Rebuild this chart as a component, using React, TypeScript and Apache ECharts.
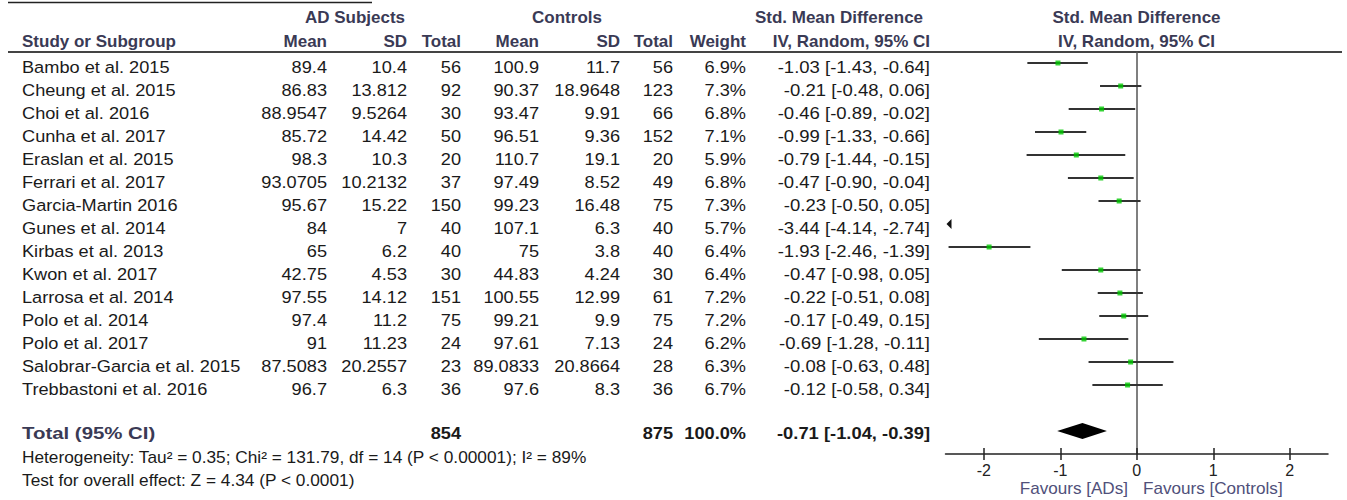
import React, { useEffect, useRef } from "react";
import * as echarts from "echarts";

const studies = [
  "Bambo et al. 2015",
  "Cheung et al. 2015",
  "Choi et al. 2016",
  "Cunha et al. 2017",
  "Eraslan et al. 2015",
  "Ferrari et al. 2017",
  "Garcia-Martin 2016",
  "Gunes et al. 2014",
  "Kirbas et al. 2013",
  "Kwon et al. 2017",
  "Larrosa et al. 2014",
  "Polo et al. 2014",
  "Polo et al. 2017",
  "Salobrar-Garcia et al. 2015",
  "Trebbastoni et al. 2016",
];
const adMean = ["89.4", "86.83", "88.9547", "85.72", "98.3", "93.0705", "95.67", "84", "65", "42.75", "97.55", "97.4", "91", "87.5083", "96.7"];
const adSD = ["10.4", "13.812", "9.5264", "14.42", "10.3", "10.2132", "15.22", "7", "6.2", "4.53", "14.12", "11.2", "11.23", "20.2557", "6.3"];
const adN = [56, 92, 30, 50, 20, 37, 150, 40, 40, 30, 151, 75, 24, 23, 36];
const ctlMean = ["100.9", "90.37", "93.47", "96.51", "110.7", "97.49", "99.23", "107.1", "75", "44.83", "100.55", "99.21", "97.61", "89.0833", "97.6"];
const ctlSD = ["11.7", "18.9648", "9.91", "9.36", "19.1", "8.52", "16.48", "6.3", "3.8", "4.24", "12.99", "9.9", "7.13", "20.8664", "8.3"];
const ctlN = [56, 123, 66, 152, 20, 49, 75, 40, 40, 30, 61, 75, 24, 28, 36];
const weight = [6.9, 7.3, 6.8, 7.1, 5.9, 6.8, 7.3, 5.7, 6.4, 6.4, 7.2, 7.2, 6.2, 6.3, 6.7];
const smd = [-1.03, -0.21, -0.46, -0.99, -0.79, -0.47, -0.23, -3.44, -1.93, -0.47, -0.22, -0.17, -0.69, -0.08, -0.12];
const ciLo = [-1.43, -0.48, -0.89, -1.33, -1.44, -0.9, -0.5, -4.14, -2.46, -0.98, -0.51, -0.49, -1.28, -0.63, -0.58];
const ciHi = [-0.64, 0.06, -0.02, -0.66, -0.15, -0.04, 0.05, -2.74, -1.39, 0.05, 0.08, 0.15, -0.11, 0.48, 0.34];

const totalAdN = 854;
const totalCtlN = 875;
const totalWeight = 100.0;
const totalSmd = -0.71;
const totalLo = -1.04;
const totalHi = -0.39;

const tickValues = [-2, -1, 0, 1, 2];
const X_MIN = -2.5;
const X_MAX = 2.5;
const TOTAL_ROW = 16;

const heterogeneityText = "Heterogeneity: Tau² = 0.35; Chi² = 131.79, df = 14 (P < 0.00001); I² = 89%";
const overallText = "Test for overall effect: Z = 4.34 (P < 0.0001)";

const fmtCI = (v: number, l: number, h: number) => `${v.toFixed(2)} [${l.toFixed(2)}, ${h.toFixed(2)}]`;

export default function App() {
  const ref = useRef<HTMLDivElement>(null);

  useEffect(() => {
    document.body.style.margin = "0";
    const chart = echarts.init(ref.current!, null, { renderer: "svg" });
    const FONT = "'Liberation Sans', Arial, sans-serif";
    const headColor = "#3a3a55";
    const bodyColor = "#1a1a1a";

    const txt = (text: string, x: number, y: number, opts: any = {}, sx = 1.07) => ({
      type: "text",
      x,
      y,
      scaleX: sx,
      silent: true,
      style: {
        text,
        fontFamily: FONT,
        fontSize: 17,
        fill: bodyColor,
        align: "left",
        verticalAlign: "middle",
        ...opts,
      },
    });

    const bold = { fontWeight: "bold", fill: headColor };
    const g: any[] = [];
    g.push({ type: "line", silent: true, shape: { x1: 8, y1: 2.5, x2: 372, y2: 2.5 }, style: { stroke: "#222", lineWidth: 1.5 } });
    g.push({ type: "line", silent: true, shape: { x1: 8, y1: 52, x2: 1342, y2: 52 }, style: { stroke: "#444", lineWidth: 2 } });

    // headers
    const h1 = 17;
    const h2 = 41;
    g.push(txt("AD Subjects", 355, h1, { ...bold, align: "center" }, 1));
    g.push(txt("Controls", 567, h1, { ...bold, align: "center" }, 1));
    g.push(txt("Std. Mean Difference", 839, h1, { ...bold, align: "center" }, 1));
    g.push(txt("Std. Mean Difference", 1136.5, h1, { ...bold, align: "center" }, 1));
    g.push(txt("Study or Subgroup", 22, h2, bold, 1));
    g.push(txt("Mean", 327, h2, { ...bold, align: "right" }, 1));
    g.push(txt("SD", 407, h2, { ...bold, align: "right" }, 1));
    g.push(txt("Total", 461, h2, { ...bold, align: "right" }, 1));
    g.push(txt("Mean", 539, h2, { ...bold, align: "right" }, 1));
    g.push(txt("SD", 620, h2, { ...bold, align: "right" }, 1));
    g.push(txt("Total", 673, h2, { ...bold, align: "right" }, 1));
    g.push(txt("Weight", 746, h2, { ...bold, align: "right" }, 1));
    g.push(txt("IV, Random, 95% CI", 930, h2, { ...bold, align: "right" }, 1));
    g.push(txt("IV, Random, 95% CI", 1136.5, h2, { ...bold, align: "center" }, 1));

    const R = { align: "right" };
    studies.forEach((name, i) => {
      const y = 67 + 23 * i;
      g.push(txt(name, 22, y));
      g.push(txt(adMean[i], 327, y, R));
      g.push(txt(adSD[i], 407, y, R));
      g.push(txt(String(adN[i]), 461, y, R));
      g.push(txt(ctlMean[i], 539, y, R));
      g.push(txt(ctlSD[i], 620, y, R));
      g.push(txt(String(ctlN[i]), 673, y, R));
      g.push(txt(weight[i].toFixed(1) + "%", 746, y, R));
      g.push(txt(fmtCI(smd[i], ciLo[i], ciHi[i]), 930, y, R, 1.09));
    });

    const ty = 433;
    const tb = { fontWeight: "bold", fill: bodyColor };
    g.push(txt("Total (95% CI)", 22, ty, { ...tb, fill: headColor }, 1.2));
    g.push(txt(String(totalAdN), 461, ty, { ...tb, align: "right" }));
    g.push(txt(String(totalCtlN), 673, ty, { ...tb, align: "right" }));
    g.push(txt(totalWeight.toFixed(1) + "%", 746, ty, { ...tb, align: "right" }));
    g.push(txt(fmtCI(totalSmd, totalLo, totalHi), 930, ty, { ...tb, align: "right" }, 1.08));
    g.push(txt(heterogeneityText, 22, 458, { fontSize: 16 }, 1.08));
    g.push(txt(overallText, 22, 481, { fontSize: 16 }, 1.08));
    g.push(txt("Favours [ADs]", 1128, 489, { fontSize: 16, fill: "#50507a", align: "right" }));
    g.push(txt("Favours [Controls]", 1143, 489, { fontSize: 16, fill: "#50507a", align: "left" }));

    const ciData = smd.map((_, i) => [ciLo[i], ciHi[i], i]);
    const pointData = smd.map((v, i) => [v, i]).filter((p) => p[0] >= X_MIN && p[0] <= X_MAX);

    chart.setOption({
      animation: false,
      grid: { left: 945.5, top: 52, width: 382.5, height: 402, containLabel: false },
      xAxis: [
        {
          type: "value",
          min: X_MIN,
          max: X_MAX,
          position: "bottom",
          axisLine: { show: true, onZero: false, lineStyle: { color: "#222", width: 1.5 } },
          axisTick: { show: true, customValues: tickValues, length: 6, lineStyle: { color: "#222", width: 1.5 } },
          axisLabel: { show: true, customValues: tickValues, fontSize: 16, color: "#222", fontFamily: FONT, margin: 8, formatter: (v: number) => String(v) },
          splitLine: { show: false },
        },
        {
          type: "value",
          min: X_MIN,
          max: X_MAX,
          position: "bottom",
          axisLine: { show: false, onZero: false },
          axisTick: { show: true, inside: true, customValues: tickValues, length: 6, lineStyle: { color: "#222", width: 1.5 } },
          axisLabel: { show: false },
          splitLine: { show: false },
        },
      ],
      yAxis: {
        type: "value",
        min: -0.478,
        max: 17,
        inverse: true,
        axisLine: { show: true, onZero: true, lineStyle: { color: "#555", width: 1.5 } },
        axisTick: { show: false },
        axisLabel: { show: false },
        splitLine: { show: false },
      },
      graphic: g,
      series: [
        {
          type: "custom",
          xAxisIndex: 0,
          clip: false,
          z: 2,
          encode: { x: [0, 1], y: 2 },
          data: ciData,
          renderItem: (params: any, api: any) => {
            const l = api.value(0);
            const h = api.value(1);
            const r = api.value(2);
            if (h < X_MIN) {
              const p = api.coord([X_MIN, r]);
              return {
                type: "polygon",
                shape: { points: [[p[0] + 1, p[1]], [p[0] + 6, p[1] - 5], [p[0] + 6, p[1] + 5]] },
                style: { fill: "#111" },
              };
            }
            const a = api.coord([Math.max(l, X_MIN), r]);
            const b = api.coord([Math.min(h, X_MAX), r]);
            return {
              type: "line",
              shape: { x1: a[0], y1: a[1], x2: b[0], y2: b[1] },
              style: { stroke: "#333", lineWidth: 2 },
            };
          },
        },
        {
          type: "scatter",
          xAxisIndex: 0,
          z: 3,
          symbol: "rect",
          symbolSize: 5,
          itemStyle: { color: "#00c800" },
          data: pointData,
        },
        {
          type: "custom",
          xAxisIndex: 0,
          z: 3,
          encode: { x: [0, 1, 2], y: 3 },
          data: [[totalLo, totalSmd, totalHi, TOTAL_ROW]],
          renderItem: (params: any, api: any) => {
            const r = api.value(3);
            const a = api.coord([api.value(0), r]);
            const e = api.coord([api.value(1), r]);
            const b = api.coord([api.value(2), r]);
            return {
              type: "polygon",
              shape: { points: [[a[0], a[1]], [e[0], e[1] - 8], [b[0], b[1]], [e[0], e[1] + 8]] },
              style: { fill: "#000" },
            };
          },
        },
      ],
    });

    return () => chart.dispose();
  }, []);

  return <div ref={ref} style={{ position: "absolute", left: 0, top: 0, width: 1347, height: 500 }} />;
}
